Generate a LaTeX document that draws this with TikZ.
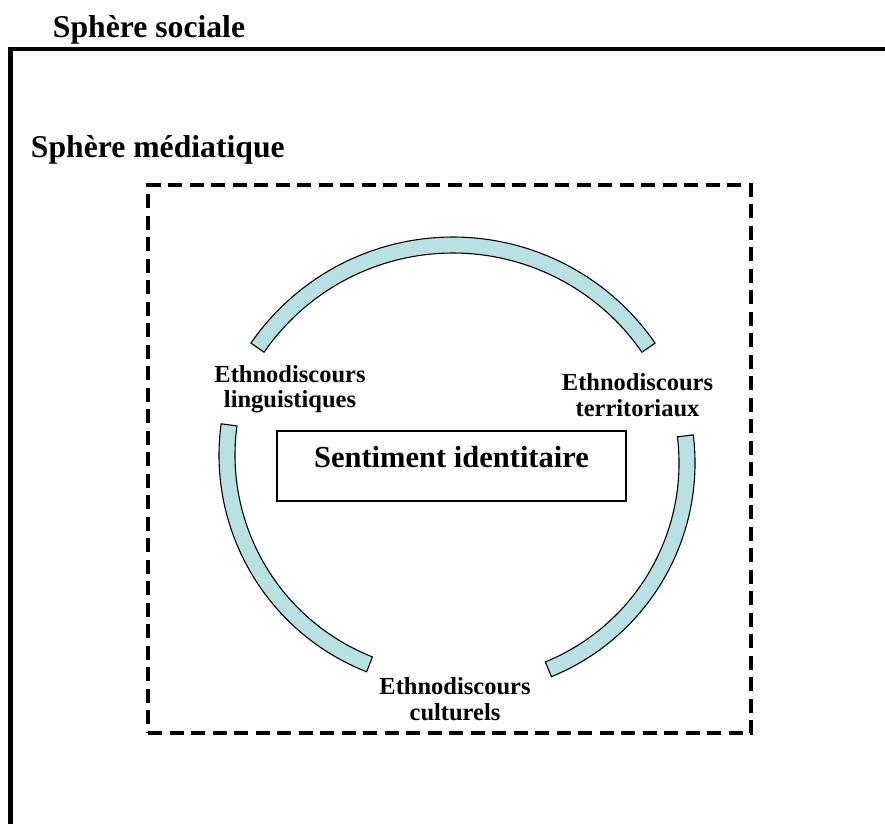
\documentclass[tikz,border=0pt]{standalone}
\usepackage{fontspec}
\setmainfont{Liberation Serif}
\definecolor{arcfill}{RGB}{185,224,227}
\begin{document}
\begin{tikzpicture}[x=1pt,y=-1pt,
  arcband/.style={draw=black, line width=1.1pt, fill=arcfill},
  titletext/.style={font=\bfseries\fontsize{31.7}{34}\selectfont, inner sep=0pt, anchor=base west},
  labtext/.style={font=\bfseries\fontsize{24.5}{26}\selectfont, inner sep=0pt, anchor=base},
  coretext/.style={font=\bfseries\fontsize{30.5}{32}\selectfont, inner sep=0pt, anchor=base},
  framebox/.style={draw=black, line width=4.5pt},
  mediabox/.style={draw=black, line width=3.5pt, dash pattern=on 14pt off 7.5pt, inner sep=0pt},
  corebox/.style={draw=black, line width=1.3pt, inner sep=0pt}]
\useasboundingbox (0,0) rectangle (885,823);
\fill[white] (0,0) rectangle (885,823);
% outer social sphere frame
\coordinate (fbl) at (10.5,830);
\coordinate (ftl) at (10.5,49);
\coordinate (ftr) at (890,49);
\draw[framebox] (fbl) -- (ftl) -- (ftr);
\node[titletext] (social) at (52.7,37.7) {Sphère sociale};
% media sphere
\node[titletext] (mediatitle) at (30.7,157.7) {Sphère médiatique};
\node[mediabox, minimum width=603pt, minimum height=548pt] (media) at (449.5,459) {};
% central box
\node[corebox, minimum width=349pt, minimum height=70pt] (core) at (451.5,466) {};
\node[coretext] (coretxt) at (451.5,467) {Sentiment identitaire};
% arcs
\coordinate (cT) at (453,482.5);
\coordinate (cL) at (452,455);
\coordinate (cR) at (464.2,463);
\draw[arcband] ([shift={(214.6:245.5)}]cT) arc[start angle=214.6, end angle=325.4, radius=245.5]
  -- ([shift={(325.4:229.5)}]cT) arc[start angle=325.4, end angle=214.6, radius=229.5] -- cycle;
\draw[arcband] ([shift={(111.5:233)}]cL) arc[start angle=111.5, end angle=187.7, radius=233]
  -- ([shift={(187.7:217)}]cL) arc[start angle=187.7, end angle=111.5, radius=217] -- cycle;
\draw[arcband] ([shift={(-7:230.8)}]cR) arc[start angle=-7, end angle=67.8, radius=230.8]
  -- ([shift={(67.8:214.8)}]cR) arc[start angle=67.8, end angle=-7, radius=214.8] -- cycle;
% labels
\node[labtext] (ling1) at (290,382) {Ethnodiscours};
\node[labtext] (ling2) at (290,407) {linguistiques};
\node[labtext] (terr1) at (637.5,390) {Ethnodiscours};
\node[labtext] (terr2) at (637.5,416) {territoriaux};
\node[labtext] (cult1) at (455,694) {Ethnodiscours};
\node[labtext] (cult2) at (455,720) {culturels};
\end{tikzpicture}
\end{document}
